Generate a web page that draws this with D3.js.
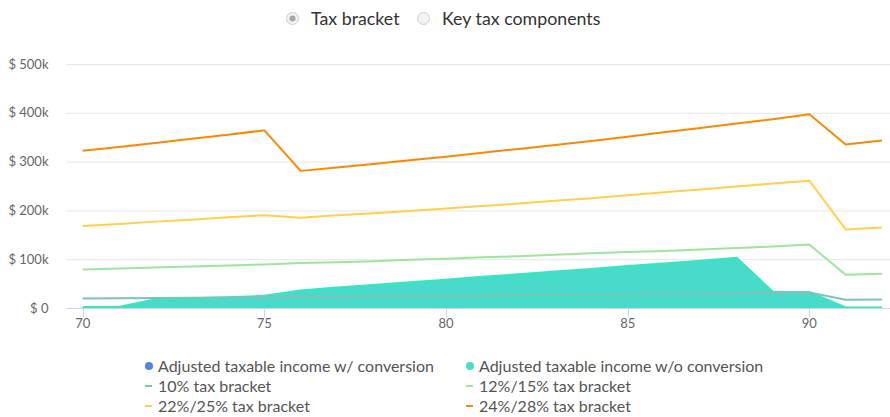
<!DOCTYPE html>
<html>
<head>
<meta charset="utf-8">
<script src="https://cdn.jsdelivr.net/npm/d3@7"></script>
<style>
  body { margin: 0; background: #fff; }
  text { font-family: Lato, "Open Sans", sans-serif; }
</style>
</head>
<body>
<div id="chart"></div>
<script>
/* Chart data (values in $k) */
const ages = [70, 71, 72, 73, 74, 75, 76, 77, 78, 79, 80, 81, 82, 83, 84, 85, 86, 87, 88, 89, 90, 91, 92];
const incomeWithoutConversion = [2, 2, 18, 20, 22, 25, 36, 42, 47, 53, 58, 64, 69, 75, 80, 86, 91, 97, 103, 33, 33, 1, 1];
const bracket10 = [19.4, 19.9, 20.4, 20.9, 21.4, 21.9, 22.5, 23.0, 23.6, 24.2, 24.8, 25.4, 26.1, 26.7, 27.4, 28.1, 28.8, 29.5, 30.2, 31.0, 31.8, 17.0, 17.4];
const bracket12 = [79, 81, 83, 85, 87, 89, 92, 94, 96, 99, 101, 104, 106, 109, 112, 115, 117, 120, 123, 126, 130, 68, 70];
const bracket22 = [168, 172, 177, 181, 186, 190, 185, 190, 194, 199, 204, 209, 214, 220, 225, 231, 237, 243, 249, 255, 261, 161, 165];
const bracket24 = [322, 330, 338, 347, 355, 364, 281, 288, 295, 303, 310, 318, 326, 334, 342, 351, 360, 369, 378, 387, 397, 335, 343];
const yTicks = [0, 100, 200, 300, 400, 500];
const xTicks = [70, 75, 80, 85, 90];

const lineSeries = [
  {name: "10% tax bracket", values: bracket10, color: "#7cc4bb"},
  {name: "12%/15% tax bracket", values: bracket12, color: "#9fe59b"},
  {name: "22%/25% tax bracket", values: bracket22, color: "#ffd04d"},
  {name: "24%/28% tax bracket", values: bracket24, color: "#f98a00"}
];

const width = 890, height = 417;
const margins = {top: 64, right: 2, bottom: 109, left: 66};

const svg = d3.select("#chart")
  .append("svg")
    .attr("width", width)
    .attr("height", height)
    .attr("viewBox", [0, 0, width, height]);

/* Scales */
const xScale = d3.scaleLinear()
  .domain([70, 92])
  .range([82.7, 882]);

const yScale = d3.scaleLinear()
  .domain([0, 500])
  .range([height - margins.bottom, margins.top]);

/* Grid lines */
svg.append("g")
  .selectAll("line")
  .data(yTicks.slice(1))
  .join("line")
    .attr("x1", margins.left)
    .attr("x2", width)
    .attr("y1", d => yScale(d) + 0.5)
    .attr("y2", d => yScale(d) + 0.5)
    .attr("stroke", "#e6e6e6");

/* Y axis labels */
svg.append("g")
  .selectAll("text")
  .data(yTicks)
  .join("text")
    .attr("x", 48.5)
    .attr("y", d => yScale(d) + 4.5)
    .attr("text-anchor", "end")
    .attr("font-size", 13)
    .attr("fill", "#666")
    .text(d => d === 0 ? "$ 0" : `$ ${d}k`);

/* Area for taxable income without conversion */
const area = d3.area()
  .x((d, i) => xScale(ages[i]))
  .y0(yScale(0))
  .y1(d => yScale(d));

svg.append("path")
  .datum(incomeWithoutConversion)
  .attr("d", area)
  .attr("fill", "#49dbca");

svg.append("path")
  .datum(incomeWithoutConversion)
  .attr("d", d3.line().x((d, i) => xScale(ages[i])).y(d => yScale(d)))
  .attr("fill", "none")
  .attr("stroke", "#33e8bf")
  .attr("stroke-width", 2);

/* Tax bracket lines */
const line = d3.line()
  .x((d, i) => xScale(ages[i]))
  .y(d => yScale(d));

svg.append("g")
  .selectAll("path")
  .data(lineSeries)
  .join("path")
    .attr("d", d => line(d.values))
    .attr("fill", "none")
    .attr("stroke", d => d.color)
    .attr("stroke-width", 2)
    .attr("stroke-linejoin", "round");

/* X axis */
const xAxis = svg.append("g");
xAxis.append("line")
  .attr("x1", margins.left)
  .attr("x2", width)
  .attr("y1", yScale(0) + 0.5)
  .attr("y2", yScale(0) + 0.5)
  .attr("stroke", "#ccd6eb");

xAxis.selectAll(".tick")
  .data(xTicks)
  .join("line")
    .attr("x1", d => Math.round(xScale(d)) + 0.5)
    .attr("x2", d => Math.round(xScale(d)) + 0.5)
    .attr("y1", yScale(0))
    .attr("y2", yScale(0) + 9)
    .attr("stroke", "#ccd6eb");

xAxis.selectAll("text")
  .data(xTicks)
  .join("text")
    .attr("x", d => xScale(d))
    .attr("y", 328)
    .attr("text-anchor", "middle")
    .attr("font-size", 13)
    .attr("fill", "#666")
    .text(d => d);

/* Radio buttons on top */
const radios = [
  {label: "Tax bracket", cx: 292.5, tx: 311, checked: true},
  {label: "Key tax components", cx: 423.5, tx: 442, checked: false}
];
const radio = svg.append("g")
  .selectAll("g")
  .data(radios)
  .join("g");
radio.append("circle")
  .attr("cx", d => d.cx)
  .attr("cy", 18.5)
  .attr("r", 6)
  .attr("fill", "#f2f2f2")
  .attr("stroke", "#cfcfcf");
radio.filter(d => d.checked)
  .append("circle")
  .attr("cx", d => d.cx)
  .attr("cy", 18.5)
  .attr("r", 3)
  .attr("fill", "#a6a6a6");
radio.append("text")
  .attr("x", d => d.tx)
  .attr("y", 24.5)
  .attr("font-size", 17.8)
  .attr("fill", "#333")
  .text(d => d.label);

/* Legend */
const legendItems = [
  {name: "Adjusted taxable income w/ conversion", color: "#4f84ec", type: "dot"},
  {name: "Adjusted taxable income w/o conversion", color: "#3ee3c3", type: "dot"},
  ...lineSeries.map(s => ({name: s.name, color: s.color, type: "dash"}))
];
const legend = svg.append("g")
  .selectAll("g")
  .data(legendItems)
  .join("g")
    .attr("transform", (d, i) => `translate(${i % 2 === 0 ? 145 : 466},${366 + Math.floor(i / 2) * 20})`);

legend.filter(d => d.type === "dot")
  .append("circle")
    .attr("cx", 4)
    .attr("cy", 0)
    .attr("r", 4)
    .attr("fill", d => d.color);
legend.filter(d => d.type === "dash")
  .append("rect")
    .attr("x", 0)
    .attr("y", -1)
    .attr("width", 7)
    .attr("height", 2)
    .attr("fill", d => d.color);
legend.append("text")
  .attr("x", 13)
  .attr("y", 5.5)
  .attr("font-size", 16)
  .attr("fill", "#555")
  .text(d => d.name);
</script>
</body>
</html>
